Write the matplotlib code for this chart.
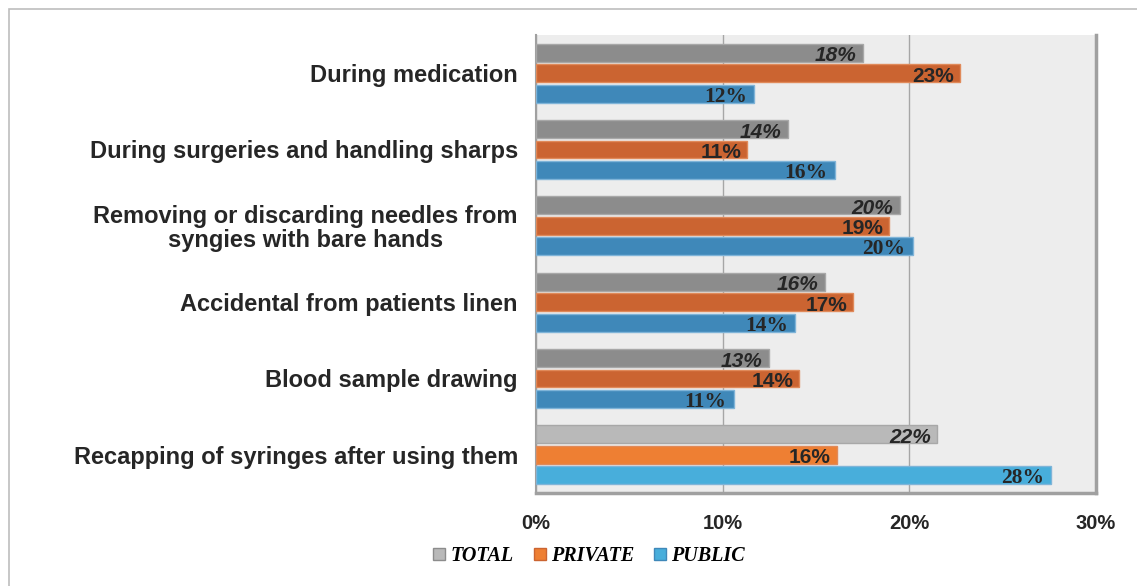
import matplotlib.pyplot as plt
from matplotlib.patches import Rectangle, Patch
import numpy as np

# categories, top to bottom
categories = ['During medication',
              'During surgeries and handling sharps',
              'Removing or discarding needles from\nsyngies with bare hands',
              'Accidental from patients linen',
              'Blood sample drawing',
              'Recapping of syringes after using them']

total   = [17.5, 13.5, 19.5, 15.5, 12.5, 21.5]
private = [22.7, 11.3, 18.9, 17.0, 14.1, 16.1]
public  = [11.7, 16.0, 20.2, 13.9, 10.6, 27.6]

total_lbl   = ['18%', '14%', '20%', '16%', '13%', '22%']
private_lbl = ['23%', '11%', '19%', '17%', '14%', '16%']
public_lbl  = ['12%', '16%', '20%', '14%', '11%', '28%']

xticks = [0, 10, 20, 30]
xtick_lbl = ['0%', '10%', '20%', '30%']

# colours (last group is drawn in lighter shades, as in the source)
c_total   = ['#8c8c8c'] * 5 + ['#b9b9b9']
c_private = ['#cb6431'] * 5 + ['#ee7f33']
c_public  = ['#3f88b9'] * 5 + ['#48aedb']

fig = plt.figure(figsize=(11.37, 5.86), dpi=100)
fig.patches.append(Rectangle((9 / 1137, -0.1), 1.2, 1 - 9 / 586 + 0.1, transform=fig.transFigure,
                             fill=False, edgecolor='#bdbdbd', linewidth=1.2))

ax = fig.add_axes([536 / 1137, 1 - 493 / 586, (1096 - 536) / 1137, (493 - 35) / 586])
ax.set_facecolor('#ededed')

y = np.arange(len(categories))
h = 0.235
off = 0.268

ax.barh(y - off, total, height=h, color=c_total, edgecolor='#a8a8a8', linewidth=1, zorder=3)
ax.barh(y, private, height=h, color=c_private, edgecolor='#e08a5a', linewidth=1, zorder=3)
ax.barh(y + off, public, height=h, color=c_public, edgecolor='#7fb4d8', linewidth=1, zorder=3)

for i in range(len(categories)):
    ax.text(total[i] - 0.35, y[i] - off + 0.04, total_lbl[i], ha='right', va='center',
            family='Liberation Sans', fontweight='bold', fontstyle='italic', fontsize=15,
            color='#262626', zorder=4)
    ax.text(private[i] - 0.3, y[i] + 0.04, private_lbl[i], ha='right', va='center',
            family='Liberation Sans', fontweight='bold', fontsize=15,
            color='#262626', zorder=4)
    ax.text(public[i] - 0.4, y[i] + off + 0.04, public_lbl[i], ha='right', va='center',
            family='Liberation Serif', fontweight='bold', fontsize=15.5,
            color='#262626', zorder=4)

ax.set_xlim(0, 30)
ax.set_ylim(len(categories) - 0.5, -0.5)
ax.set_xticks(xticks)
ax.set_xticklabels(xtick_lbl, family='Liberation Sans', fontweight='bold', fontsize=14.5, color='#262626')
ax.set_yticks(y)
ax.set_yticklabels(categories, family='Liberation Sans', fontweight='bold', fontsize=17,
                   color='#262626', ha='right', multialignment='center', linespacing=1.05)
ax.tick_params(axis='both', length=0)
ax.tick_params(axis='x', pad=15)
ax.tick_params(axis='y', pad=13)
ax.xaxis.grid(True, color='#a6a6a6', linewidth=1, zorder=0)
ax.set_axisbelow(True)

ax.spines['top'].set_visible(False)
ax.spines['left'].set_color('#a0a0a0')
ax.spines['left'].set_linewidth(1.5)
ax.spines['right'].set_color('#a0a0a0')
ax.spines['right'].set_linewidth(2.5)
ax.spines['bottom'].set_color('#a0a0a0')
ax.spines['bottom'].set_linewidth(2.5)

handles = [Patch(facecolor='#b9b9b9', edgecolor='#8c8c8c', label='TOTAL'),
           Patch(facecolor='#ee7f33', edgecolor='#cb6431', label='PRIVATE'),
           Patch(facecolor='#48aedb', edgecolor='#3f88b9', label='PUBLIC')]
fig.legend(handles=handles, loc='center left', bbox_to_anchor=(415 / 1137, 1 - 556 / 586),
           ncol=3, frameon=False, handlelength=0.6, handleheight=0.6, handletextpad=0.25,
           columnspacing=1.0, prop={'family': 'Liberation Serif', 'weight': 'bold',
                                    'style': 'italic', 'size': 14.5})

fig.savefig('out.png', dpi=100)
